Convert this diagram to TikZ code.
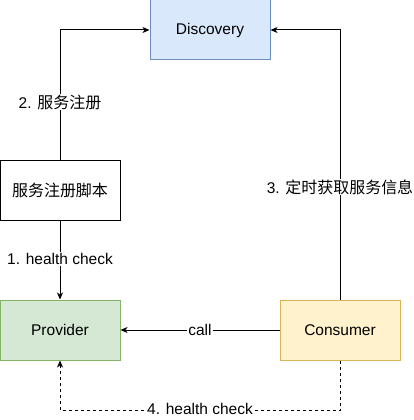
\documentclass[tikz,border=0pt]{standalone}
\usepackage{fontspec}
\setmainfont{Liberation Sans}
\newfontfamily\cjk[Scale=1.03]{Noto Sans CJK SC}
\usetikzlibrary{arrows.meta}
\definecolor{discfill}{HTML}{DAE8FC}
\definecolor{discline}{HTML}{6C8EBF}
\definecolor{provfill}{HTML}{D5E8D4}
\definecolor{provline}{HTML}{82B366}
\definecolor{consfill}{HTML}{FFF2CC}
\definecolor{consline}{HTML}{D6B656}
\tikzset{
  box/.style={draw, minimum width=120pt, minimum height=60pt, inner sep=0pt,
    font=\fontsize{15.5}{18}\selectfont},
  lbl/.style={fill=white, inner sep=1pt, font=\fontsize{15.5}{18}\selectfont},
  arr/.style={-{Stealth[length=7pt,width=6pt,inset=2pt]}}
}
\begin{document}
\begin{tikzpicture}[x=1pt,y=-1pt,line width=1pt]
\useasboundingbox (0,0) rectangle (413,420);
\node[box, fill=discfill, draw=discline] (disc) at (210,30) {Discovery};
\node[box, fill=white] (script) at (60,190) {\cjk 服务注册脚本};
\node[box, fill=provfill, draw=provline] (prov) at (60,330) {Provider};
\node[box, fill=consfill, draw=consline] (cons) at (340,330) {Consumer};
\coordinate (low) at (200,410);
% connectors
\draw[arr] (script.north) -- (script.north |- disc.west) -- (disc.west);
\draw[arr] (cons.north) -- (cons.north |- disc.east) -- (disc.east);
\draw[arr] (script.south) -- (prov.north);
\draw[arr] (cons.west) -- (prov.east);
\draw[arr, dash pattern=on 3pt off 3pt] (cons.south) -- (cons.south |- low) -- (prov.south |- low) -- (prov.south);
% labels
\node[lbl] (l1) at (60,259) {1. health check};
\node[lbl] (l2) at (60,102) {2. {\cjk 服务注册}};
\node[lbl] (l3) at (340,187) {3. {\cjk 定时获取服务信息}};
\node[lbl] (l4) at (200,409) {4. health check};
\node[lbl] (lc) at (200,330) {call};
\end{tikzpicture}
\end{document}
